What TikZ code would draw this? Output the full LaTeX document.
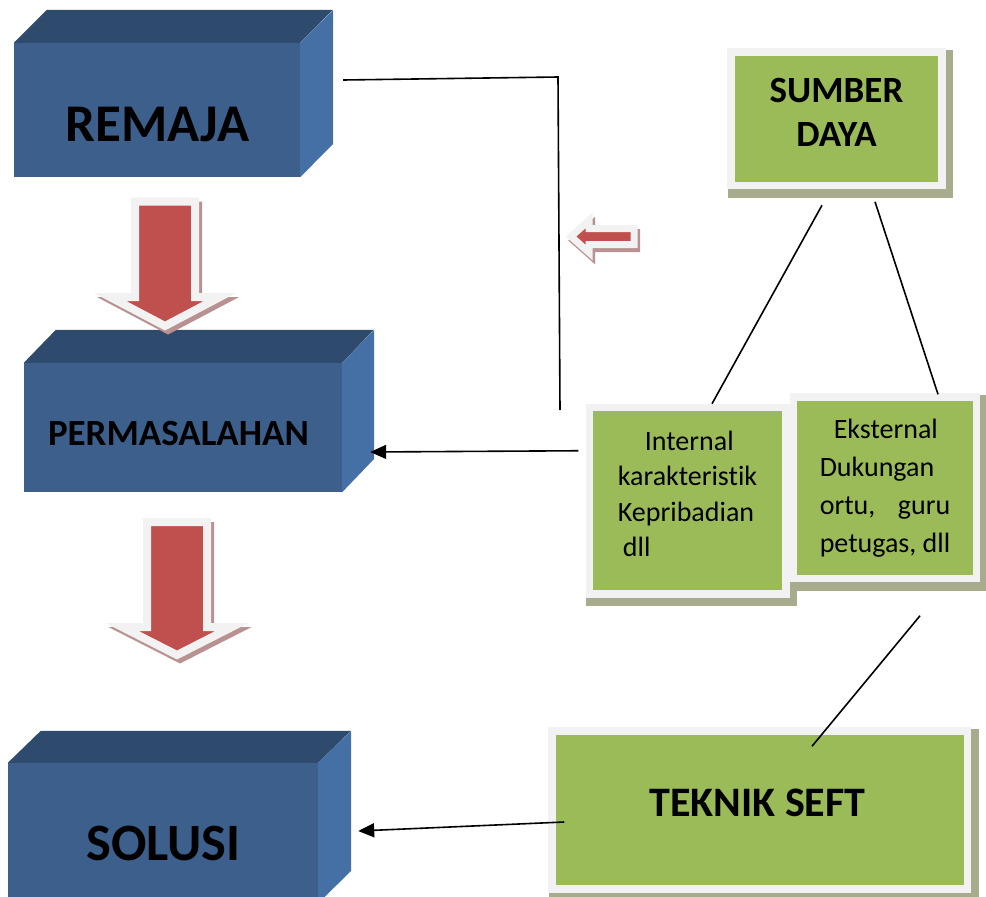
\documentclass[tikz,border=0pt]{standalone}
\usepackage{fontspec}
\setmainfont[Ligatures={NoCommon}]{Carlito}
\usetikzlibrary{arrows.meta,calc,backgrounds}

\definecolor{cfront}{RGB}{60,96,139}
\definecolor{ctop}{RGB}{46,75,110}
\definecolor{cside}{RGB}{69,112,165}
\definecolor{gfill}{RGB}{155,187,89}
\definecolor{gborder}{RGB}{242,242,242}
\definecolor{gshadow}{RGB}{168,172,140}
\definecolor{rfill}{RGB}{192,80,77}
\definecolor{rshadow}{RGB}{185,145,145}

\newlength\ekw

\begin{document}
\begin{tikzpicture}[x=1pt,y=-1pt,
 front/.style={fill=cfront, draw=none, inner sep=0pt},
 topface/.style={fill=ctop},
 sideface/.style={fill=cside},
 gbox/.style={fill=gfill, draw=gborder, line width=7.5pt, inner sep=0pt},
 gshad/.style={fill=gshadow},
 blk/.style={fill=rfill, draw=gborder, line width=8pt, line join=miter, miter limit=25},
 blkshad/.style={fill=rshadow, draw=rshadow, line width=8pt, line join=miter, miter limit=25},
 conn/.style={draw=black, line width=1.6pt},
 arr/.style={conn, -{Triangle[length=16pt,width=14pt]}},
 ttl/.style={inner sep=0pt, text=black},
]
\useasboundingbox (0,0) rectangle (986,897);

% ---------- cuboids ----------
\node[front, minimum width=286pt, minimum height=134pt] (remaja) at (157,110) {};
\fill[topface] (remaja.north west) -- ++(33,-33) -- ++(286,0) -- (remaja.north east) -- cycle;
\fill[sideface] (remaja.north east) -- ++(33,-33) -- ++(0,134) -- (remaja.south east) -- cycle;
\node[ttl, font=\bfseries\fontsize{53}{60}\selectfont] (remajat) at (157.5,124) {REMAJA};

\node[front, minimum width=318pt, minimum height=129pt] (perm) at (183,427.5) {};
\fill[topface] (perm.north west) -- ++(32,-33) -- ++(318,0) -- (perm.north east) -- cycle;
\fill[sideface] (perm.north east) -- ++(32,-33) -- ++(0,129) -- (perm.south east) -- cycle;
\node[ttl, font=\bfseries\fontsize{37}{42}\selectfont] (permt) at (178.5,433) {PERMASALAHAN};

\node[front, minimum width=310pt, minimum height=140pt] (solusi) at (163,833) {};
\fill[topface] (solusi.north west) -- ++(33,-32) -- ++(310,0) -- (solusi.north east) -- cycle;
\fill[sideface] (solusi.north east) -- ++(33,-32) -- ++(0,140) -- (solusi.south east) -- cycle;
\node[ttl, font=\bfseries\fontsize{52.5}{60}\selectfont] (solusit) at (163.5,843) {SOLUSI};

% ---------- green boxes ----------
\node[gbox, minimum width=211pt, minimum height=133.5pt] (sumber) at (836.5,118.75) {};
\node[gbox, minimum width=196.5pt, minimum height=186.5pt] (internal) at (687.75,500.75) {};
\node[gbox, minimum width=183pt, minimum height=181.5pt] (eksternal) at (885,487.75) {};
\node[gbox, minimum width=415.5pt, minimum height=158pt] (teknik) at (759.75,810) {};

\begin{scope}[on background layer]
\foreach \b in {sumber,internal,eksternal,teknik}{
  \fill[gshad] ([shift={(0.25,1.25)}]\b.north west) rectangle ([shift={(7.25,8.25)}]\b.south east);
}
\end{scope}

\node[ttl, font=\bfseries\fontsize{37}{44}\selectfont, align=center] (sumbert) at (836.5,112) {SUMBER\\DAYA};
\node[ttl, font=\bfseries\fontsize{42}{48}\selectfont] (teknikt) at (757.5,803) {TEKNIK SEFT};
\node[ttl, font=\fontsize{28}{35.5}\selectfont, align=left] (internalt) at (687.5,494)
  {\hspace*{27pt}Internal\\karakteristik\\Kepribadian\\\hspace*{5pt}dll};
\node[ttl, font=\fontsize{28}{38}\selectfont, align=left] (eksternalt) at (885,488)
  {\hspace*{14pt}Eksternal\\Dukungan\\\settowidth{\ekw}{petugas, dll}\makebox[\ekw][s]{ortu, guru}\\petugas, dll};

% ---------- red block arrows ----------
\begin{scope}[shift={(3,4)}]
\filldraw[blkshad] (135,201.5) -- (195,201.5) -- (195,297) -- (220,297) -- (165,326) -- (110,297) -- (135,297) -- cycle;
\filldraw[blkshad] (147,522) -- (207,522) -- (207,627) -- (232,627) -- (177,655) -- (122,627) -- (147,627) -- cycle;
\end{scope}
\filldraw[blk] (135,201.5) -- (195,201.5) -- (195,297) -- (220,297) -- (165,326) -- (110,297) -- (135,297) -- cycle;
\filldraw[blk] (147,522) -- (207,522) -- (207,627) -- (232,627) -- (177,655) -- (122,627) -- (147,627) -- cycle;

\filldraw[blkshad, line width=7pt, shift={(2.5,4)}] (634,228.5) -- (634,244.5) -- (589,244.5) -- (589,252.5) -- (571,236.5) -- (589,220.5) -- (589,228.5) -- cycle;
\filldraw[blk, line width=7pt] (634,228.5) -- (634,244.5) -- (589,244.5) -- (589,252.5) -- (571,236.5) -- (589,220.5) -- (589,228.5) -- cycle;

% ---------- connectors ----------
\coordinate (rjbend) at (558,77);
\coordinate (rjend) at (560,410);
\draw[conn] ($(remaja.east)+(43,-30)$) -- (rjbend) -- (rjend);
\draw[arr] ($(internal.west)+(-7.5,-50)$) -- ($(perm.east)+(28,24.5)$);
\draw[conn] ($(sumber.south)+(-14.5,16)$) -- ($(internal.north)+(24.25,0)$);
\draw[conn] ($(sumber.south)+(38.5,12.5)$) -- ($(eksternal.north)+(53,1)$);
\draw[conn] ($(eksternal.south)+(35,33.5)$) -- ($(teknik.north)+(52.25,19)$);
\draw[arr] ($(teknik.west)+(16,12)$) -- ($(solusi.east)+(40,-2)$);
\end{tikzpicture}
\end{document}
